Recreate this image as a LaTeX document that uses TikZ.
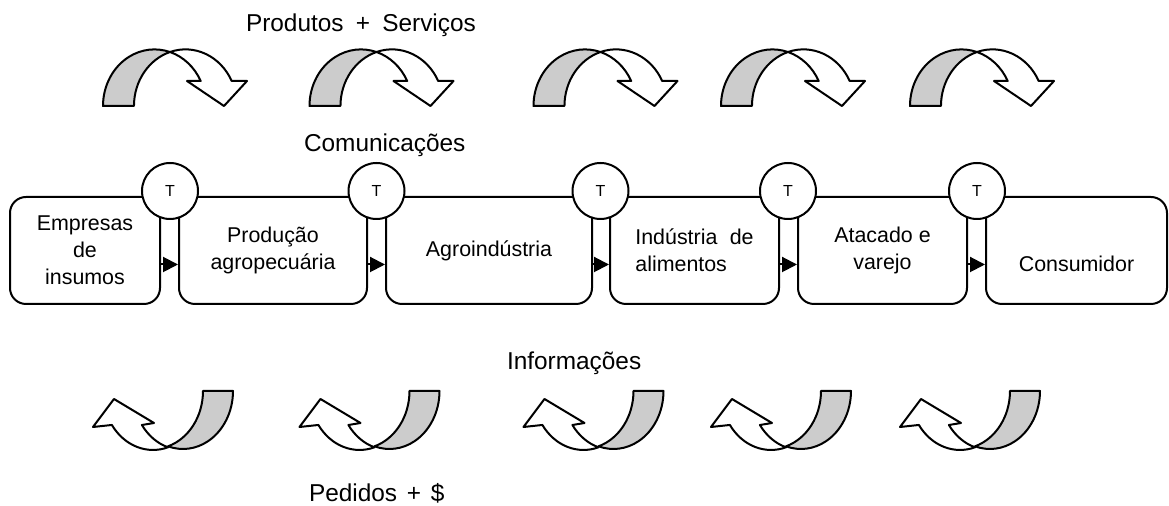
\documentclass[tikz,border=0pt]{standalone}
\usepackage{fontspec}
\setmainfont{Liberation Sans}
\usetikzlibrary{arrows.meta}
\definecolor{backgray}{RGB}{204,204,204}

\begin{document}
\begin{tikzpicture}[
        x=0.5pt, y=-0.5pt,
        line width=1pt,
        every node/.style = {font=\fontsize{10.7}{13.5}\selectfont},
        stage/.style = {shape=rectangle, rounded corners=8pt,
          draw, align=center, minimum height=53.5pt, inner sep=0pt},
        tcircle/.style = {shape=circle, draw, fill=white,
          minimum size=28pt, inner sep=0pt, font=\fontsize{8}{9.6}\selectfont},
        flow/.style = {-{Triangle[length=7.5pt,width=7.5pt]}},
        caption/.style = {anchor=base west, inner sep=0pt,
          font=\fontsize{12.2}{14.6}\selectfont},
        back/.style = {draw, fill=backgray, line join=round},
        front/.style = {draw, fill=white, line join=round},
        supply/.pic = {
          \path[back] (-67,0)
            arc[start angle=180, end angle=72.5, x radius=25.75pt, y radius=28.3pt]
            arc[start angle=107.5, end angle=180, x radius=25.75pt, y radius=28.3pt]
            -- cycle;
          \path[front] (0,-54)
            arc[start angle=107.5, end angle=26.2, x radius=25.75pt, y radius=28.3pt]
            -- (77,-25) -- (54,0) -- (17,-25) -- (30.7,-25)
            arc[start angle=26.2, end angle=72.5, x radius=25.75pt, y radius=28.3pt]
            -- cycle;
        },
        demand/.pic = {
          \path[back] (63,-1)
            arc[start angle=0, end angle=-107.46, x radius=25pt, y radius=29pt]
            arc[start angle=-72.54, end angle=0, x radius=25pt, y radius=29pt]
            -- cycle;
          \path[front] (-2,55.3)
            arc[start angle=-72.54, end angle=-145.32, x radius=25pt, y radius=29pt]
            -- (-77,35) -- (-56,7) -- (-16,31) -- (-28.1,33)
            arc[start angle=-145.32, end angle=-107.46, x radius=25pt, y radius=29pt]
            -- cycle;
        }
        ]
        \useasboundingbox (0,0) rectangle (1169,506);

        % flows of goods (top) and of orders (bottom)
        \pic (s1) at (170,106) {supply};
        \pic (s2) at (376.5,106) {supply};
        \pic (s3) at (600.5,106) {supply};
        \pic (s4) at (788,106) {supply};
        \pic (s5) at (977,106) {supply};
        \pic (d1) at (170,392) {demand};
        \pic (d2) at (376.5,392) {demand};
        \pic (d3) at (600.5,392) {demand};
        \pic (d4) at (788,392) {demand};
        \pic (d5) at (977,392) {demand};

        % chain
        \node[stage, minimum width=75pt] (b1) at (85,250.5) {Empresas\\de\\insumos};
        \node[stage, minimum width=94pt] (b2) at (273,250.5) {Produção\\agropecuária};
        \node[stage, minimum width=103pt] (b3) at (489,250.5) {Agroindústria};
        \node[stage, minimum width=84.5pt, align=left] (b4) at (694.5,250.5)
            {Indústria\hspace{0.3em} de\\alimentos};
        \node[stage, minimum width=84.5pt] (b5) at (882.5,250.5) {Atacado e\\varejo};
        \node[stage, minimum width=90.5pt] (b6) at (1076.5,250.5) {};
        \node (consumidor) at ([yshift=-6.75pt]b6.center) {Consumidor};

        \draw[flow] ([yshift=-7pt]b1.east) -- ([yshift=-7pt]b2.west);
        \draw[flow] ([yshift=-7pt]b2.east) -- ([yshift=-7pt]b3.west);
        \draw[flow] ([yshift=-7pt]b3.east) -- ([yshift=-7pt]b4.west);
        \draw[flow] ([yshift=-7pt]b4.east) -- ([yshift=-7pt]b5.west);
        \draw[flow] ([yshift=-7pt]b5.east) -- ([yshift=-7pt]b6.west);

        \node[tcircle] (t1) at (170,191) {T};
        \node[tcircle] (t2) at (376.5,191) {T};
        \node[tcircle] (t3) at (600.5,191) {T};
        \node[tcircle] (t4) at (788,191) {T};
        \node[tcircle] (t5) at (977,191) {T};

        % captions
        \node[caption] (prodserv) at (245,32) {Produtos\hspace{0.5em}+\hspace{0.5em}Serviços};
        \node[caption] (comunic) at (303,152) {Comunicações};
        \node[caption] (inform) at (506,370) {Informações};
        \node[caption] (pedidos) at (308,501.7) {Pedidos\hspace{0.4em}+\hspace{0.4em}\$};
    \end{tikzpicture}
\end{document}
